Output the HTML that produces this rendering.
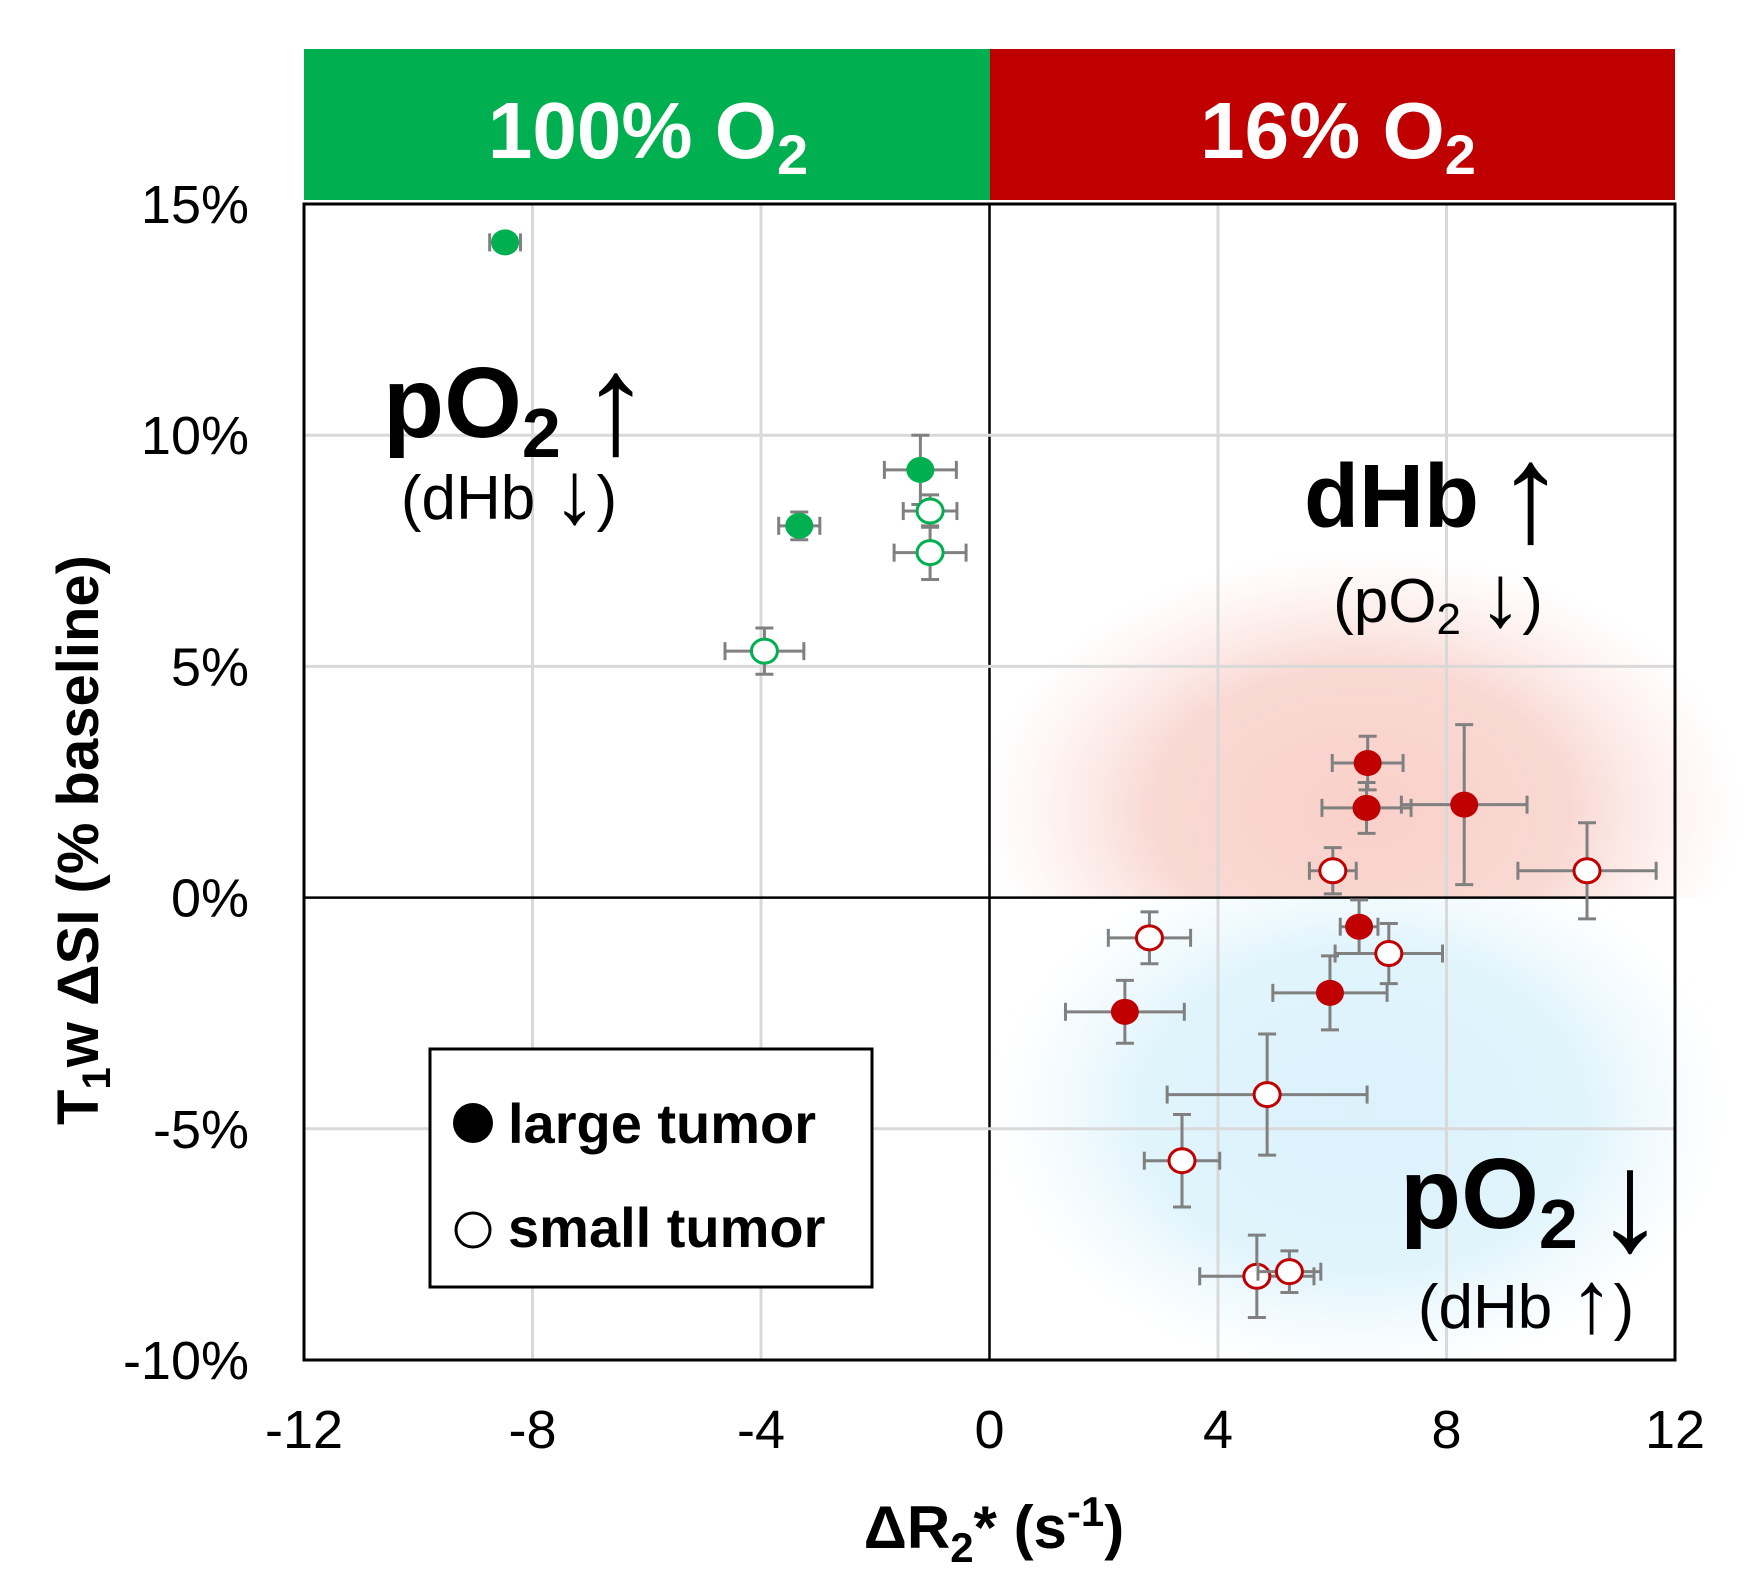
<!DOCTYPE html>
<html><head><meta charset="utf-8"><style>
html,body{margin:0;padding:0;background:#fff;}
svg{display:block;font-family:"Liberation Sans",Arial,sans-serif;}
</style></head><body>
<svg id="chart" width="1757" height="1593" viewBox="0 0 1757 1593" xmlns="http://www.w3.org/2000/svg">
<defs>
<radialGradient id="redCloud" cx="0.5" cy="0.5" r="0.5">
<stop offset="0" stop-color="#f8c8c0" stop-opacity="0.85"/>
<stop offset="0.55" stop-color="#f8cfc8" stop-opacity="0.8"/>
<stop offset="1" stop-color="#fbe0dc" stop-opacity="0"/>
</radialGradient>
<radialGradient id="blueCloud" cx="0.5" cy="0.5" r="0.5">
<stop offset="0" stop-color="#d9f1fb" stop-opacity="0.95"/>
<stop offset="0.6" stop-color="#dbf2fc" stop-opacity="0.85"/>
<stop offset="1" stop-color="#e8f7fd" stop-opacity="0"/>
</radialGradient>
<clipPath id="clipTop"><rect x="900" y="204" width="857" height="694"/></clipPath>
<clipPath id="clipBot"><rect x="900" y="898" width="857" height="462"/></clipPath>
</defs>
<rect x="304" y="49" width="686" height="151" fill="#00b050"/>
<rect x="990" y="49" width="685" height="151" fill="#c00000"/>
<text x="648" y="158" text-anchor="middle" font-size="80" font-weight="bold" fill="#fff">100% O<tspan font-size="56" dy="16">2</tspan></text>
<text x="1338" y="158" text-anchor="middle" font-size="80" font-weight="bold" fill="#fff">16% O<tspan font-size="56" dy="16">2</tspan></text>
<g clip-path="url(#clipTop)"><ellipse cx="1362" cy="810" rx="380" ry="260" fill="url(#redCloud)"/></g>
<g clip-path="url(#clipBot)"><ellipse cx="1362" cy="1110" rx="370" ry="270" fill="url(#blueCloud)"/></g>
<g id="grid"></g>
<g id="marks"></g>
<rect x="304" y="204" width="1371" height="1156" fill="none" stroke="#000" stroke-width="3"/>
<g id="ticks"></g>
<text x="383" y="437" font-size="100" font-weight="bold">pO<tspan font-size="70" dy="20">2</tspan><tspan dy="-20" font-weight="normal" font-size="70"> </tspan><tspan font-weight="normal" font-size="142" dy="16">↑</tspan></text>
<text x="509" y="519" text-anchor="middle" font-size="62">(dHb <tspan font-size="88" dy="4">↓</tspan><tspan dy="-4">)</tspan></text>
<text x="1304" y="527" font-size="90" font-weight="bold">dHb<tspan font-size="60"> </tspan><tspan font-weight="normal" font-size="140" dy="14">↑</tspan></text>
<text x="1438" y="622" text-anchor="middle" font-size="62">(pO<tspan font-size="44" dy="12">2</tspan><tspan dy="-12"> </tspan><tspan font-size="88" dy="4">↓</tspan><tspan dy="-4">)</tspan></text>
<text x="1400" y="1228" font-size="100" font-weight="bold">pO<tspan font-size="70" dy="20">2</tspan><tspan dy="-20" font-weight="normal" font-size="60"> </tspan><tspan font-weight="normal" font-size="142" dy="22">↓</tspan></text>
<text x="1526" y="1328" text-anchor="middle" font-size="62">(dHb <tspan font-size="88" dy="4">↑</tspan><tspan dy="-4">)</tspan></text>
<g>
<rect x="430" y="1049" width="442" height="238" fill="#fff" stroke="#000" stroke-width="3"/>
<circle cx="473" cy="1123" r="20" fill="#000"/>
<text x="508" y="1143" font-size="56" font-weight="bold">large tumor</text>
<circle cx="473" cy="1230" r="17" fill="#fff" stroke="#000" stroke-width="3"/>
<text x="508" y="1247" font-size="56" font-weight="bold">small tumor</text>
</g>
<text x="994" y="1548" text-anchor="middle" font-size="60" font-weight="bold">ΔR<tspan font-size="42" dy="14">2</tspan><tspan dy="-14">* (s</tspan><tspan font-size="42" dy="-22">-1</tspan><tspan dy="22">)</tspan></text>
<text transform="translate(98,840) rotate(-90)" text-anchor="middle" font-size="58" font-weight="bold">T<tspan font-size="40" dy="12">1</tspan><tspan dy="-12">w ΔSI (% baseline)</tspan></text>
</svg>
<script>
const xTicks = [-12, -8, -4, 0, 4, 8, 12];
const yTicks = [15, 10, 5, 0, -5, -10];
const yTickLabels = ["15%", "10%", "5%", "0%", "-5%", "-10%"];
// series: green (100% O2) and red (16% O2), large (filled) / small (open)
const greenLargeX = [-8.48, -3.33, -1.21];
const greenLargeY = [14.17, 8.04, 9.25];
const greenLargeXErr = [0.27, 0.36, 0.63];
const greenLargeYErr = [0.1, 0.3, 0.75];
const greenSmallX = [-1.04, -1.04, -3.94];
const greenSmallY = [8.36, 7.46, 5.33];
const greenSmallXErr = [0.47, 0.63, 0.69];
const greenSmallYErr = [0.35, 0.58, 0.5];
const redLargeX = [6.62, 6.60, 8.31, 6.47, 5.96, 2.37];
const redLargeY = [2.91, 1.94, 2.01, -0.63, -2.06, -2.47];
const redLargeXErr = [0.62, 0.78, 1.1, 0.33, 1.0, 1.04];
const redLargeYErr = [0.58, 0.55, 1.73, 0.58, 0.8, 0.68];
const redSmallX = [6.01, 10.46, 2.80, 6.99, 4.86, 3.37, 4.68, 5.25];
const redSmallY = [0.58, 0.58, -0.87, -1.21, -4.26, -5.69, -8.19, -8.09];
const redSmallXErr = [0.41, 1.21, 0.72, 0.94, 1.75, 0.66, 1.0, 0.55];
const redSmallYErr = [0.5, 1.04, 0.56, 0.65, 1.31, 1.0, 0.89, 0.45];

const X0 = 304, X1 = 1675, Y0 = 204, Y1 = 1360;
function sx(v){ return X0 + (v + 12) / 24 * (X1 - X0); }
function sy(v){ return Y0 + (15 - v) / 25 * (Y1 - Y0); }
const NS = "http://www.w3.org/2000/svg";
function mk(tag, attrs, parent){
  const el = document.createElementNS(NS, tag);
  for (const k in attrs) el.setAttribute(k, attrs[k]);
  parent.appendChild(el);
  return el;
}
const grid = document.getElementById('grid');
const ticks = document.getElementById('ticks');
const marks = document.getElementById('marks');
xTicks.forEach(function(t){
  if (t === -12 || t === 12) return;
  const l = mk('line', {x1: sx(t), x2: sx(t), y1: Y0, y2: Y1, stroke: t === 0 ? '#000' : '#d9d9d9', 'stroke-width': t === 0 ? 2.5 : 3}, grid);
  
  
});
yTicks.forEach(function(t){
  if (t === 15 || t === -10) return;
  const l = mk('line', {x1: X0, x2: X1, y1: sy(t), y2: sy(t), stroke: t === 0 ? '#000' : '#d9d9d9', 'stroke-width': t === 0 ? 2.5 : 3}, grid);
  
  
});
xTicks.forEach(function(t){
  const tx = mk('text', {x: sx(t), y: sy(-10) + 88, 'text-anchor': 'middle', 'font-size': 54}, ticks);
  tx.textContent = String(t);
  
  
});
yTicks.forEach(function(t, i){
  const tx = mk('text', {x: 249, y: sy(t) + 19, 'text-anchor': 'end', 'font-size': 54}, ticks);
  tx.textContent = yTickLabels[i];
  
  
});
function drawSeries(xs, ys, xe, ye, color, filled, name){
  xs.forEach(function(xv, i){
    const g = mk('g', {}, marks);
    
    
    const cx = sx(xv), cy = sy(ys[i]);
    const xl = sx(xv - xe[i]), xr = sx(xv + xe[i]);
    const yt = sy(ys[i] + ye[i]), yb = sy(ys[i] - ye[i]);
    const st = {stroke: '#808080', 'stroke-width': 3};
    mk('line', Object.assign({x1: xl, x2: xr, y1: cy, y2: cy}, st), g);
    mk('line', Object.assign({x1: cx, x2: cx, y1: yt, y2: yb}, st), g);
    mk('line', Object.assign({x1: xl, x2: xl, y1: cy - 9, y2: cy + 9}, st), g);
    mk('line', Object.assign({x1: xr, x2: xr, y1: cy - 9, y2: cy + 9}, st), g);
    mk('line', Object.assign({x1: cx - 9, x2: cx + 9, y1: yt, y2: yt}, st), g);
    mk('line', Object.assign({x1: cx - 9, x2: cx + 9, y1: yb, y2: yb}, st), g);
    if (filled) mk('ellipse', {cx: cx, cy: cy, rx: 14, ry: 13, fill: color}, g);
    else mk('ellipse', {cx: cx, cy: cy, rx: 13, ry: 12, fill: '#fff', stroke: color, 'stroke-width': 3}, g);
  });
}
drawSeries(greenLargeX, greenLargeY, greenLargeXErr, greenLargeYErr, '#00b050', true, 'green-large');
drawSeries(greenSmallX, greenSmallY, greenSmallXErr, greenSmallYErr, '#00b050', false, 'green-small');
drawSeries(redLargeX, redLargeY, redLargeXErr, redLargeYErr, '#c00000', true, 'red-large');
drawSeries(redSmallX, redSmallY, redSmallXErr, redSmallYErr, '#c00000', false, 'red-small');
</script>
</body></html>
